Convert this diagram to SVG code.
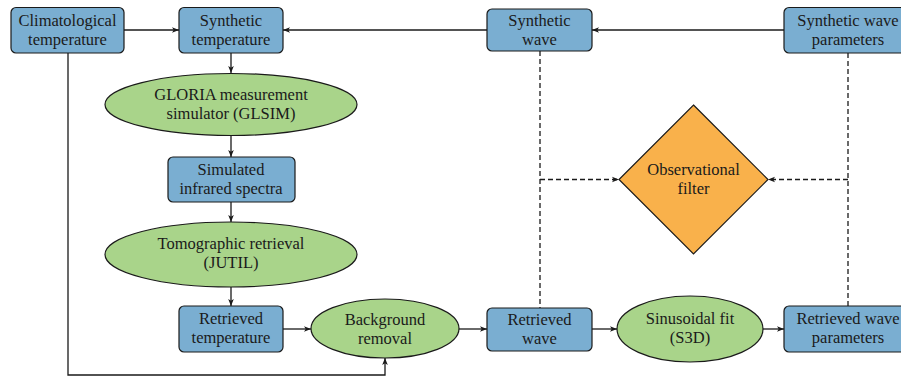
<svg xmlns="http://www.w3.org/2000/svg" width="901" height="378" viewBox="0 0 901 378">
<defs>
<style>
.box{fill:#7aaed1;stroke:#1a1a1a;stroke-width:1.2}
.ell{fill:#a9d48a;stroke:#1a1a1a;stroke-width:1.2}
.dia{fill:#f9b14b;stroke:#1a1a1a;stroke-width:1.2}
.t{font-family:'Liberation Serif','DejaVu Serif',serif;font-size:16.5px;fill:#1a1a1a;text-anchor:middle}
.c{fill:none;stroke:#1a1a1a;stroke-width:1.3}
.d{fill:none;stroke:#1a1a1a;stroke-width:1.3;stroke-dasharray:5,3}
</style>
<marker id="ah" viewBox="0 0 10 10" refX="10" refY="5" markerWidth="7" markerHeight="7" markerUnits="userSpaceOnUse" orient="auto">
<path d="M0,1 L10,5 L0,9 L2.5,5 Z" fill="#1a1a1a"/>
</marker>
</defs>
<rect width="901" height="378" fill="#fff"/>
<g id="connectors">
<path class="c" d="M124,30 H179" marker-end="url(#ah)"/>
<path class="c" d="M487,30 H283" marker-end="url(#ah)"/>
<path class="c" d="M784,30 H592" marker-end="url(#ah)"/>
<path class="c" d="M231,53 V73" marker-end="url(#ah)"/>
<path class="c" d="M231,136 V157" marker-end="url(#ah)"/>
<path class="c" d="M231,202 V222" marker-end="url(#ah)"/>
<path class="c" d="M231,287 V306" marker-end="url(#ah)"/>
<path class="c" d="M283,329 H311" marker-end="url(#ah)"/>
<path class="c" d="M459,329 H487" marker-end="url(#ah)"/>
<path class="c" d="M592,329 H617" marker-end="url(#ah)"/>
<path class="c" d="M763,329 H784" marker-end="url(#ah)"/>
<path class="c" d="M68,53 V375 H385 V358" marker-end="url(#ah)"/>
<path class="d" d="M540,51 V308"/>
<path class="d" d="M848,53 V306"/>
<path class="d" d="M540,179.5 H619" marker-end="url(#ah)"/>
<path class="d" d="M848,179.5 H768" marker-end="url(#ah)"/>
</g>
<g id="climatological-temperature">
<rect class="box" x="11" y="7.5" width="113" height="45.5" rx="5"/>
<text class="t" x="67.5" y="25.5">Climatological</text>
<text class="t" x="67.5" y="44.5">temperature</text>
</g>
<g id="synthetic-temperature">
<rect class="box" x="179" y="7.5" width="104" height="45.5" rx="5"/>
<text class="t" x="231" y="25.5">Synthetic</text>
<text class="t" x="231" y="44.5">temperature</text>
</g>
<g id="synthetic-wave">
<rect class="box" x="487" y="9" width="105" height="42" rx="5"/>
<text class="t" x="539.5" y="26">Synthetic</text>
<text class="t" x="539.5" y="45">wave</text>
</g>
<g id="synthetic-wave-parameters">
<rect class="box" x="784" y="7.5" width="128" height="45.5" rx="5"/>
<text class="t" x="848" y="25.5">Synthetic wave</text>
<text class="t" x="848" y="44.5">parameters</text>
</g>
<g id="glsim">
<ellipse class="ell" cx="231" cy="104.5" rx="126" ry="31"/>
<text class="t" x="231" y="100">GLORIA measurement</text>
<text class="t" x="231" y="119">simulator (GLSIM)</text>
</g>
<g id="simulated-spectra">
<rect class="box" x="168" y="157" width="127" height="45" rx="5"/>
<text class="t" x="231" y="175">Simulated</text>
<text class="t" x="231" y="194">infrared spectra</text>
</g>
<g id="jutil">
<ellipse class="ell" cx="231" cy="254.5" rx="126" ry="32.5"/>
<text class="t" x="231" y="249">Tomographic retrieval</text>
<text class="t" x="231" y="268">(JUTIL)</text>
</g>
<g id="retrieved-temperature">
<rect class="box" x="179" y="306" width="104" height="46" rx="5"/>
<text class="t" x="231" y="324">Retrieved</text>
<text class="t" x="231" y="343">temperature</text>
</g>
<g id="background-removal">
<ellipse class="ell" cx="385" cy="328.5" rx="74" ry="29.5"/>
<text class="t" x="385" y="325">Background</text>
<text class="t" x="385" y="344">removal</text>
</g>
<g id="retrieved-wave">
<rect class="box" x="487" y="308" width="105" height="43" rx="5"/>
<text class="t" x="539.5" y="325">Retrieved</text>
<text class="t" x="539.5" y="344">wave</text>
</g>
<g id="sinusoidal-fit">
<ellipse class="ell" cx="690" cy="329" rx="73" ry="33"/>
<text class="t" x="690" y="324">Sinusoidal fit</text>
<text class="t" x="690" y="343">(S3D)</text>
</g>
<g id="retrieved-wave-parameters">
<rect class="box" x="784" y="306" width="128" height="46" rx="5"/>
<text class="t" x="848" y="324">Retrieved wave</text>
<text class="t" x="848" y="343">parameters</text>
</g>
<g id="observational-filter">
<polygon class="dia" points="693.5,105 768,179.5 693.5,254 619,179.5"/>
<text class="t" x="693.5" y="175">Observational</text>
<text class="t" x="693.5" y="194">filter</text>
</g>
</svg>
